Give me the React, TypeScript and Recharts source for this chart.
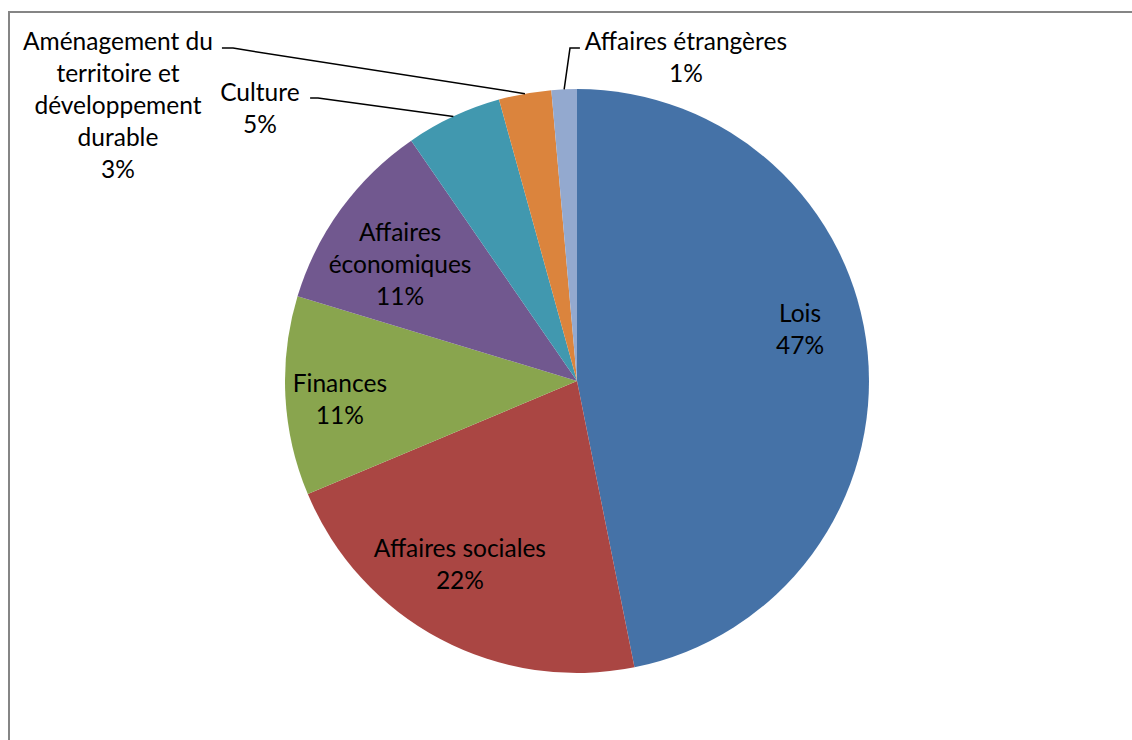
import { Cell, Pie, PieChart } from "recharts";

const categories = [
  "Lois",
  "Affaires sociales",
  "Finances",
  "Affaires économiques",
  "Culture",
  "Aménagement du territoire et développement durable",
  "Affaires étrangères",
];

// how each label is broken over lines
const labelLines = [
  ["Lois"],
  ["Affaires sociales"],
  ["Finances"],
  ["Affaires", "économiques"],
  ["Culture"],
  ["Aménagement du", "territoire et", "développement", "durable"],
  ["Affaires étrangères"],
];

const shares = [46.8, 21.8, 11.0, 10.7, 5.3, 2.9, 1.4];

const colors = ["#4572A7", "#AA4643", "#89A54E", "#71588F", "#4198AF", "#DB843D", "#93A9CF"];

const data = categories.map((name, i) => ({ name, value: shares[i] }));

// label block centres, in units of the radius from the pie centre.
// outside labels also get a short horizontal leader segment (x1 -> x2 at y)
type Layout = { x: number; y: number; lead?: { x1: number; x2: number; y: number } };
const labelLayout: Layout[] = [
  { x: 0.764, y: -0.178 },
  { x: -0.401, y: 0.627 },
  { x: -0.812, y: 0.062 },
  { x: -0.606, y: -0.401 },
  { x: -1.086, y: -0.935, lead: { x1: -0.914, x2: -0.887, y: -0.969 } },
  { x: -1.572, y: -0.945, lead: { x1: -1.216, x2: -1.178, y: -1.14 } },
  { x: 0.373, y: -1.11, lead: { x1: 0.01, x2: -0.024, y: -1.14 } },
];

const LINE = 32;
const FONT = "Lato, 'Open Sans', sans-serif";
const RAD = Math.PI / 180;

function renderLabel(props: any) {
  const { cx, cy, outerRadius, midAngle, percent, index } = props;
  const lay = labelLayout[index];
  const lines = [...labelLines[index], `${Math.round(percent * 100)}%`];
  const bx = cx + lay.x * outerRadius;
  const by = cy + lay.y * outerRadius;
  const first = by - ((lines.length - 1) * LINE) / 2;
  let leader = null;
  if (lay.lead) {
    const ex = cx + outerRadius * Math.cos(-midAngle * RAD);
    const ey = cy + outerRadius * Math.sin(-midAngle * RAD);
    const ly = cy + lay.lead.y * outerRadius;
    const pts = `${cx + lay.lead.x1 * outerRadius},${ly} ${cx + lay.lead.x2 * outerRadius},${ly} ${ex},${ey}`;
    leader = <polyline points={pts} fill="none" stroke="#000" strokeWidth={1.5} />;
  }
  return (
    <g key={`lbl-${index}`}>
      {leader}
      <text x={bx} textAnchor="middle" fontFamily={FONT} fontSize={24.5} fill="#000">
        {lines.map((t, i) => (
          <tspan key={i} x={bx} y={first + i * LINE + 8.8}>
            {t}
          </tspan>
        ))}
      </text>
    </g>
  );
}

export default function App() {
  return (
    <div style={{ position: "absolute", left: 0, top: 0, width: 1132, height: 740, overflow: "hidden", background: "#fff" }}>
      <div
        style={{
          position: "absolute",
          left: 8,
          top: 11,
          width: 1200,
          height: 800,
          borderTop: "2px solid #858585",
          borderLeft: "2px solid #858585",
        }}
      />
      <div style={{ position: "absolute", left: 0, top: 0 }}>
        <PieChart width={1132} height={740} margin={{ top: 0, right: 0, bottom: 0, left: 0 }}>
          <Pie
            data={data}
            dataKey="value"
            nameKey="name"
            cx={577}
            cy={381}
            outerRadius={292}
            startAngle={90}
            endAngle={-270}
            stroke="none"
            label={renderLabel}
            labelLine={false}
            isAnimationActive={false}
          >
            {data.map((d, i) => (
              <Cell key={d.name} fill={colors[i]} />
            ))}
          </Pie>
        </PieChart>
      </div>
    </div>
  );
}
